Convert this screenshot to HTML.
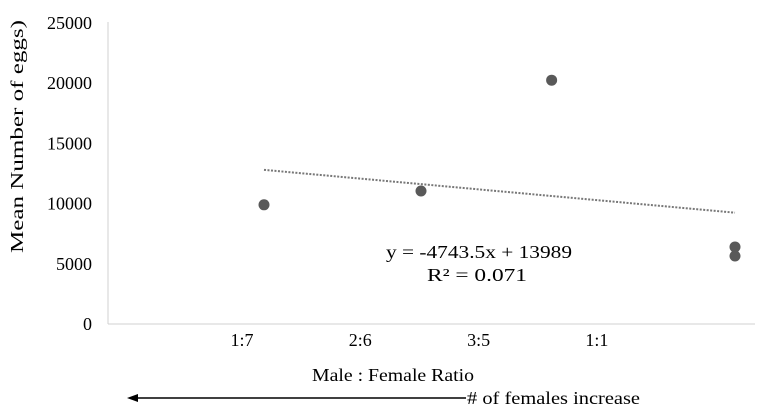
<!DOCTYPE html>
<html><head><meta charset="utf-8"><style>
body{margin:0;background:#fff;}
svg text{font-family:"Liberation Serif",serif;fill:#000;}
</style></head><body>
<svg width="760" height="406" viewBox="0 0 760 406">
<g id="yticks"></g>
<g id="xcats"></g>
<line x1="108" y1="22" x2="108" y2="324" stroke="#d0d0d0" stroke-width="1"/>
<line x1="108" y1="324" x2="755" y2="324" stroke="#d0d0d0" stroke-width="1"/>
<g id="trend"></g>
<g id="pts"></g>
<text x="386" y="258" font-size="18" textLength="186" lengthAdjust="spacingAndGlyphs">y = -4743.5x + 13989</text>
<text x="427" y="281" font-size="18" textLength="100" lengthAdjust="spacingAndGlyphs">R² = 0.071</text>
<text transform="translate(23,253) rotate(-90)" font-size="18" textLength="233" lengthAdjust="spacingAndGlyphs">Mean Number of eggs)</text>
<text x="312" y="381" font-size="18" textLength="162" lengthAdjust="spacingAndGlyphs">Male : Female Ratio</text>
<line x1="136" y1="398" x2="466" y2="398" stroke="#000" stroke-width="1.5"/>
<polygon points="127,398 138,394 138,402" fill="#000"/>
<text x="467" y="404" font-size="18" textLength="173" lengthAdjust="spacingAndGlyphs"># of females increase</text>
</svg>
<script>
const yTicks=[0,5000,10000,15000,20000,25000];
const categories=["1:7","2:6","3:5","1:1"];
const xVals=[0.25,0.5,0.708,1.0,1.0];
const yVals=[9900,11050,20250,6400,5650];
const slope=-4743.5, intercept=13989;
const trendRange=[0.25,1.0];
const ns="http://www.w3.org/2000/svg";
const sx=v=>107+v*628;
const sy=v=>324-v*301/25000;
const yg=document.getElementById('yticks');
yTicks.forEach(t=>{const e=document.createElementNS(ns,'text');


e.setAttribute('x',92);e.setAttribute('y',sy(t)+6);e.setAttribute('font-size','18');e.setAttribute('text-anchor','end');e.textContent=t;yg.appendChild(e);});
const xg=document.getElementById('xcats');
const catStep=118.3, catStart=242;
categories.forEach((c,i)=>{const e=document.createElementNS(ns,'text');


e.setAttribute('x',catStart+i*catStep);e.setAttribute('y',346);e.setAttribute('font-size','18');e.setAttribute('text-anchor','middle');e.textContent=c;xg.appendChild(e);});
const tl=document.createElementNS(ns,'line');


tl.setAttribute('x1',sx(trendRange[0]));tl.setAttribute('y1',sy(slope*trendRange[0]+intercept));
tl.setAttribute('x2',sx(trendRange[1]));tl.setAttribute('y2',sy(slope*trendRange[1]+intercept));
tl.setAttribute('stroke','#777');tl.setAttribute('stroke-width','2');tl.setAttribute('stroke-dasharray','2,1.5');
document.getElementById('trend').appendChild(tl);
const pg=document.getElementById('pts');
xVals.forEach((x,i)=>{const c=document.createElementNS(ns,'circle');


c.setAttribute('cx',sx(x));c.setAttribute('cy',sy(yVals[i]));c.setAttribute('r',5.5);c.setAttribute('fill','#595959');pg.appendChild(c);});
</script>
</body></html>
